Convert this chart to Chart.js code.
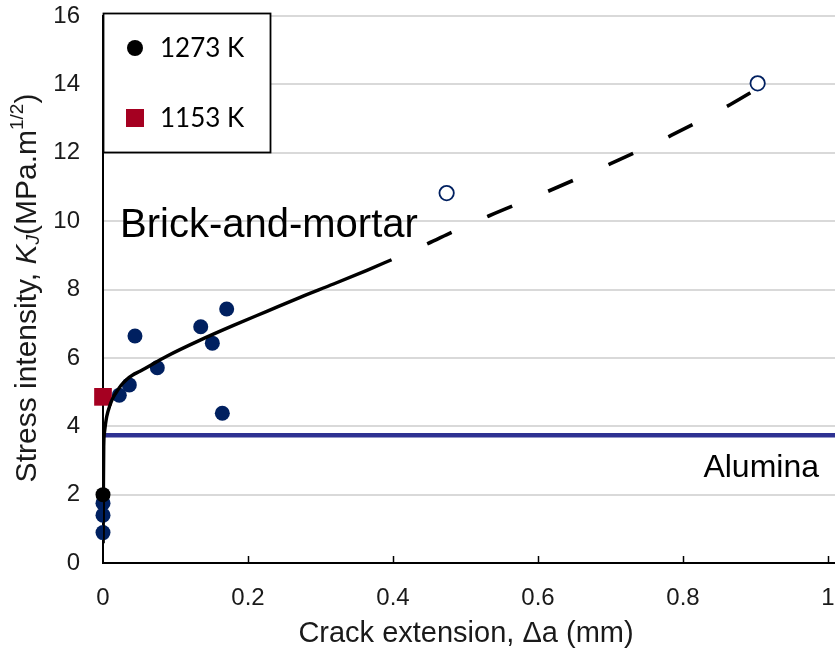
<!DOCTYPE html>
<html>
<head>
<meta charset="utf-8">
<script src="https://cdn.jsdelivr.net/npm/chart.js@4/dist/chart.umd.min.js"></script>
<style>
  html, body { margin: 0; padding: 0; background: #fff; }
  #wrap { width: 835px; height: 655px; }
</style>
</head>
<body>
<div id="wrap"><canvas id="chart" width="835" height="655"></canvas></div>
<script>
// Tick values
const xTickValues = [0, 0.2, 0.4, 0.6, 0.8, 1];
const yTickValues = [0, 2, 4, 6, 8, 10, 12, 14, 16];

// 1273 K measurements (crack extension in mm, K_J in MPa.m^1/2)
const blueX = [0.0225, 0.0363, 0.0441, 0.0749, 0.1348, 0.1508, 0.1646, 0.1706, 0, 0, 0];
const blueY = [4.91, 5.21, 6.64, 5.71, 6.91, 6.43, 4.38, 7.43, 1.75, 1.40, 0.89];
const blackX = [0];
const blackY = [2.0];

// 1153 K measurement
const redX = [0];
const redY = [4.86];

// Long-crack results (open markers)
const openX = [0.474, 0.903];
const openY = [10.82, 14.03];

// R-curve fit over the measured range, then its extrapolation
const fitX = [0.0002, 0.0005, 0.0010, 0.0022, 0.0051, 0.0097, 0.0140, 0.0189, 0.0250, 0.0327, 0.041, 0.051, 0.088, 0.134, 0.180, 0.226, 0.272, 0.318, 0.364, 0.398];
const fitY = [0.58, 2.00, 3.40, 3.85, 4.28, 4.62, 4.84, 5.01, 5.20, 5.37, 5.50, 5.61, 6.05, 6.52, 6.95, 7.36, 7.77, 8.16, 8.56, 8.87];
const extX = [0.398, 0.448, 0.483, 0.532, 0.618, 0.701, 0.785, 0.866, 0.903];
const extY = [8.87, 9.34, 9.69, 10.15, 10.91, 11.69, 12.52, 13.42, 13.88];

// Alumina toughness level
const aluminaK = 3.74;
const xMax = 1.0097;

const pts = (xs, ys) => xs.map((x, i) => ({ x: x, y: ys[i] }));

const SANS = "'Liberation Sans', Arial, sans-serif";
const LEG = "Lato, 'Open Sans', sans-serif";
const NAVY = '#002060';
const CRIMSON = '#a50021';

const decorations = {
  id: 'decorations',
  afterDraw(chart) {
    const ctx = chart.ctx;
    const xs = chart.scales.x;
    const area = chart.chartArea;
    ctx.save();

    // small inward ticks on the x axis
    ctx.strokeStyle = '#000';
    ctx.lineWidth = 1.5;
    xTickValues.slice(1).forEach(v => {
      const px = Math.round(xs.getPixelForValue(v)) + 0.5;
      ctx.beginPath();
      ctx.moveTo(px, area.bottom);
      ctx.lineTo(px, area.bottom - 7);
      ctx.stroke();
    });

    // series key
    const bx = 103.5, by = 13.5, bw = 167, bh = 139;
    ctx.fillStyle = '#fff';
    ctx.fillRect(bx, by, bw, bh);
    ctx.strokeStyle = '#000';
    ctx.lineWidth = 1.8;
    ctx.strokeRect(bx, by, bw, bh);
    const entries = [
      { ds: chart.data.datasets[3], y: 48 },
      { ds: chart.data.datasets[2], y: 118 }
    ];
    entries.forEach(e => {
      const ds = e.ds;
      ctx.fillStyle = ds.backgroundColor;
      if (ds.pointStyle === 'rect') {
        ctx.fillRect(135 - 9, e.y - 9, 18, 18);
      } else {
        ctx.beginPath();
        ctx.arc(135, e.y, 8, 0, Math.PI * 2);
        ctx.fill();
      }
      ctx.fillStyle = '#000';
      ctx.font = '26px ' + LEG;
      ctx.textAlign = 'left';
      ctx.textBaseline = 'middle';
      ctx.fillText(ds.label, 160, e.y + 1);
    });

    // in-plot labels
    ctx.fillStyle = '#000';
    ctx.textBaseline = 'alphabetic';
    ctx.font = '40px ' + SANS;
    ctx.textAlign = 'left';
    ctx.fillText('Brick-and-mortar', 120, 237);
    ctx.font = '32px ' + SANS;
    ctx.textAlign = 'right';
    ctx.fillText('Alumina', 819, 477);

    // x axis title
    ctx.font = '29px ' + SANS;
    ctx.textAlign = 'center';
    ctx.textBaseline = 'middle';
    ctx.fillStyle = '#1a1a1a';
    ctx.fillText('Crack extension, \u0394a (mm)', 466, 634);

    // y axis title with italic K, subscript J and superscript 1/2
    const segs = [
      { t: 'Stress intensity, ', f: '30px ' + SANS, dy: 0 },
      { t: 'K', f: 'italic 30px ' + SANS, dy: 0 },
      { t: 'J', f: 'italic 19px ' + SANS, dy: 6 },
      { t: '(MPa.m', f: '30px ' + SANS, dy: 0 },
      { t: '1/2', f: '19px ' + SANS, dy: -10 },
      { t: ')', f: '30px ' + SANS, dy: 0 }
    ];
    let total = 0;
    segs.forEach(s => { ctx.font = s.f; s.w = ctx.measureText(s.t).width; total += s.w; });
    ctx.translate(28, 288);
    ctx.rotate(-Math.PI / 2);
    ctx.textAlign = 'left';
    ctx.textBaseline = 'middle';
    let cx = -total / 2;
    segs.forEach(s => {
      ctx.font = s.f;
      ctx.fillText(s.t, cx, s.dy);
      cx += s.w;
    });
    ctx.restore();
  }
};

new Chart(document.getElementById('chart'), {
  type: 'scatter',
  data: {
    datasets: [
      {
        label: 'fit', type: 'line', data: pts(fitX, fitY),
        borderColor: '#000', borderWidth: 3.4, pointRadius: 0, fill: false,
        cubicInterpolationMode: 'monotone', order: 0
      },
      {
        label: 'extrapolation', type: 'line', data: pts(extX, extY),
        borderColor: '#000', borderWidth: 3.6, pointRadius: 0, fill: false,
        borderDash: [27, 39], borderDashOffset: 27,
        cubicInterpolationMode: 'monotone', order: 0
      },
      {
        label: '1153 K', data: pts(redX, redY), pointStyle: 'rect', clip: false,
        pointRadius: 12.5, backgroundColor: CRIMSON, borderColor: CRIMSON, borderWidth: 0, order: 1
      },
      {
        label: '1273 K', data: pts(blackX, blackY), pointStyle: 'circle', clip: false,
        pointRadius: 7.5, backgroundColor: '#000', borderColor: '#000', borderWidth: 0, order: 2
      },
      {
        label: '1273 K data', data: pts(blueX, blueY), pointStyle: 'circle', clip: false,
        pointRadius: 7.5, backgroundColor: NAVY, borderColor: NAVY, borderWidth: 0, order: 3
      },
      {
        label: 'long crack', data: pts(openX, openY), pointStyle: 'circle', clip: false,
        pointRadius: 7.2, backgroundColor: '#fff', borderColor: NAVY, borderWidth: 1.8, order: 3
      },
      {
        label: 'Alumina', type: 'line', data: [{ x: 0, y: aluminaK }, { x: xMax, y: aluminaK }],
        borderColor: '#2e3192', borderWidth: 4.5, pointRadius: 0, fill: false, order: 4
      }
    ]
  },
  options: {
    responsive: false,
    animation: false,
    layout: { autoPadding: false, padding: { top: 16, right: 0, bottom: 0, left: 0 } },
    plugins: { legend: { display: false }, tooltip: { enabled: false } },
    scales: {
      x: {
        type: 'linear', min: 0, max: xMax,
        afterBuildTicks: s => { s.ticks = xTickValues.map(v => ({ value: v })); },
        afterFit: s => { s.height = 92; s.paddingLeft = 0; s.paddingRight = 0; },
        grid: { display: false, drawTicks: false },
        border: { display: true, color: '#000', width: 2 },
        ticks: {
          padding: 21, color: '#1a1a1a', font: { family: SANS, size: 24 },
          callback: v => String(Math.round(v * 10) / 10)
        }
      },
      y: {
        type: 'linear', min: 0, max: 16,
        afterBuildTicks: s => { s.ticks = yTickValues.map(v => ({ value: v })); },
        afterFit: s => { s.width = 103; s.paddingTop = 0; s.paddingBottom = 0; },
        grid: {
          drawTicks: false, lineWidth: 2,
          color: c => (c.tick && c.tick.value === 0) ? 'rgba(0,0,0,0)' : '#d9d9d9'
        },
        border: { display: true, color: '#000', width: 2 },
        ticks: {
          padding: 23, color: '#1a1a1a', font: { family: SANS, size: 24 },
          callback: v => String(v)
        }
      }
    }
  },
  plugins: [decorations]
});
</script>
</body>
</html>
